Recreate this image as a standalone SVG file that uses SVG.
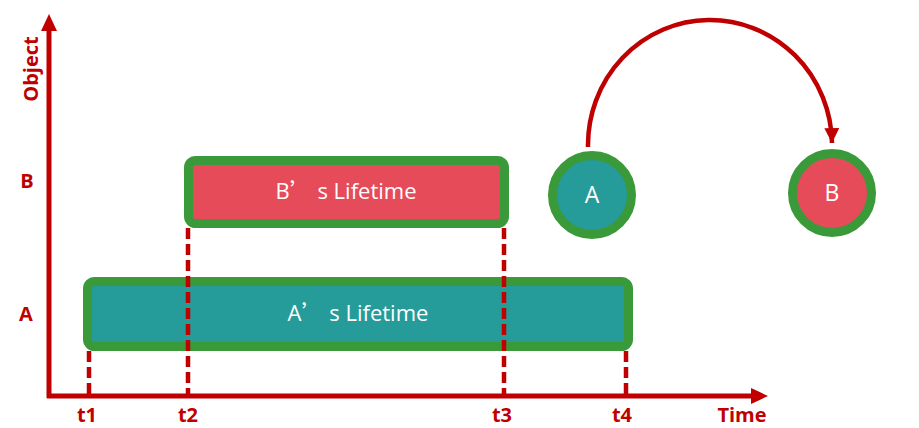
<svg xmlns="http://www.w3.org/2000/svg" width="919" height="428" viewBox="0 0 919 428">
<style>
.axis{stroke:#C00000;stroke-width:5;fill:none}
.dash{stroke:#C00000;stroke-width:4.5;stroke-dasharray:11 5;fill:none}
.box{stroke:#3A9A3A;stroke-width:9}
.lbl{font-family:"Open Sans","Liberation Sans",sans-serif;font-weight:bold;fill:#C00000;font-size:20px;text-anchor:middle}
.wt{font-family:"Open Sans","Liberation Sans",sans-serif;fill:#FFFFFF;text-anchor:middle}
.fw{font-family:"Noto Sans CJK SC",sans-serif}
</style>
<defs>
<marker id="ah" viewBox="0 0 10 10" refX="10" refY="5" markerWidth="3.3" markerHeight="3.3" orient="auto" markerUnits="strokeWidth">
<path d="M0,0 L10,5 L0,10 Z" fill="#C00000"/>
</marker>
</defs>
<g id="axes">
<line class="axis" x1="49" y1="398" x2="49" y2="28"/>
<polygon points="49,14 41,31 57,31" fill="#C00000"/>
<line class="axis" x1="47" y1="396" x2="753" y2="396"/>
<polygon points="768,396 751,388 751,404" fill="#C00000"/>
</g>
<g id="labels">
<text class="lbl" transform="translate(38,69) rotate(-90)">Object</text>
<text class="lbl" x="27" y="188">B</text>
<text class="lbl" x="26" y="321">A</text>
<text class="lbl" x="87" y="422">t1</text>
<text class="lbl" x="188" y="422">t2</text>
<text class="lbl" x="502" y="422">t3</text>
<text class="lbl" x="622" y="422">t4</text>
<text class="lbl" x="742" y="422">Time</text>
</g>
<g id="lifetimeA">
<rect class="box" x="87.5" y="281.5" width="541" height="65" rx="7" fill="#259B9A"/>
<text class="wt" x="358" y="321" font-size="22">A<tspan class="fw">’</tspan> s Lifetime</text>
</g>
<g id="lifetimeB">
<rect class="box" x="188.5" y="160.5" width="316" height="63" rx="7" fill="#E64B5A"/>
<text class="wt" x="346" y="199" font-size="22">B<tspan class="fw">’</tspan> s Lifetime</text>
</g>
<g id="connectors">
<line class="dash" x1="89" y1="351" x2="89" y2="394"/>
<line class="dash" x1="188" y1="228" x2="188" y2="394"/>
<line class="dash" x1="504" y1="228" x2="504" y2="394"/>
<line class="dash" x1="626" y1="351" x2="626" y2="394"/>
<path d="M588,147 A121,124 0 0 1 832,143" stroke="#C00000" stroke-width="4.5" fill="none" marker-end="url(#ah)"/>
</g>
<g id="circleA">
<circle cx="592" cy="195" r="39.5" fill="#259B9A" stroke="#3A9A3A" stroke-width="9"/>
<text class="wt" x="592" y="203" font-size="23">A</text>
</g>
<g id="circleB">
<circle cx="832" cy="193" r="39.5" fill="#E64B5A" stroke="#3A9A3A" stroke-width="9"/>
<text class="wt" x="832" y="201" font-size="23">B</text>
</g>
</svg>
